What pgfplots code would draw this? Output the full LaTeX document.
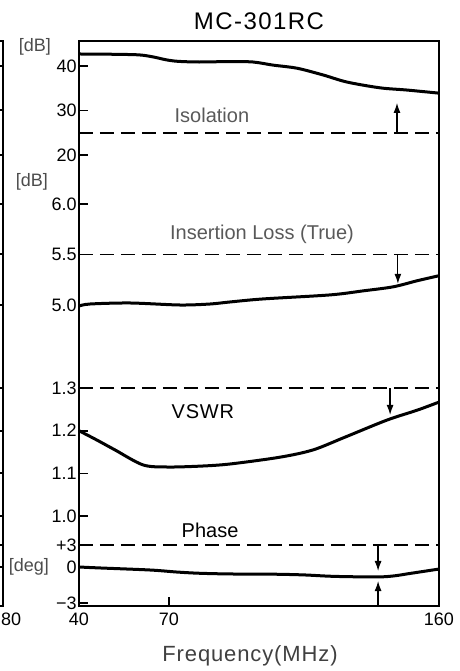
\documentclass[border=0pt]{standalone}
\usepackage{fontspec}
\setmainfont{Liberation Sans}
\usepackage{pgfplots}
\pgfplotsset{compat=1.18}
\usetikzlibrary{arrows.meta}

% axis y is the (negated) height on the sheet, 1 unit = 0.5pt;
% each panel maps its own unit onto it
\pgfplotsset{
  iso/.style={y filter/.expression={-(66+(40-y)*4.45)}},
  il/.style={y filter/.expression={-(204+(6-y)*101)}},
  vswr/.style={y filter/.expression={-(388+(1.3-y)*427)}},
  phase/.style={y filter/.expression={y>=0 ? -(567-7.333*y) : -(567-12*y)}},
  curve/.style={black, no marks, line width=1.5pt, smooth, tension=0.5},
  spec/.style={black, no marks, line width=0.9pt, dash pattern=on 7pt off 3.5pt},
  arr/.style={black, no marks, line width=0.6pt, -{Latex[length=5pt,width=3.5pt]}},
}

\begin{document}
\begin{tikzpicture}

% edge of the neighbouring chart, cut off by the page
\begin{axis}[
  at={(1.5pt,-303pt)}, anchor=south east,
  scale only axis, width=180pt, height=282.5pt,
  xmin=40, xmax=180, ymin=-606, ymax=-41,
  xtick={180}, xticklabels={80},
  xticklabel style={anchor=north west, xshift=-4.5pt},
  ytick={-66,-110,-155,-204,-254,-305,-388,-431,-473,-516,-545,-567},
  yticklabels={},
  xtick pos=bottom, ytick pos=right,
  major tick length=4.5pt,
  axis line style={line width=0.8pt},
  tick style={black, line width=0.8pt},
  tick label style={font=\fontsize{9}{10}\selectfont},
]
\end{axis}

\begin{axis}[
  at={(39.5pt,-303pt)}, anchor=south west,
  scale only axis, width=180pt, height=282.5pt,
  xmin=40, xmax=160, ymin=-606, ymax=-41,
  clip=false,
  xtick={40,70,160}, xticklabels={40,70,160},
  ytick={-66,-110.5,-155,-204,-254.5,-305,-388,-430.7,-473.4,-516.1,-545,-567,-603},
  yticklabels={40,30,20,6.0,5.5,5.0,1.3,1.2,1.1,1.0,+3,0,−3},
  xtick pos=bottom, ytick pos=left,
  major tick length=4.5pt,
  axis line style={line width=0.8pt},
  tick style={black, line width=0.8pt},
  tick label style={font=\fontsize{9}{10}\selectfont},
  yticklabel style={inner xsep=1pt},
]

% Isolation [dB]
\addplot[curve, iso] coordinates {
  (40,42.7) (50,42.65) (60,42.5) (65,42.0) (69,41.4) (73,41.05) (80,40.9)
  (90.3,41.0) (98,40.9) (104.7,40.2) (112.7,39.5) (121.3,38.0)
  (129.3,36.4) (140.3,35.1) (149.3,34.6) (160,33.9)};
\addplot[spec, iso] coordinates {(40,25) (160,25)};
\addplot[arr, iso] coordinates {(146,25) (146,31.7)};

% Insertion Loss (True) [dB]
\addplot[curve, il] coordinates {
  (40,4.99) (43.7,5.01) (57,5.02) (73.7,5.00) (83.7,5.01) (90.3,5.03)
  (101.3,5.06) (123.7,5.10) (134.7,5.14) (144.7,5.18) (152.7,5.24)
  (160,5.29)};
\addplot[spec, il] coordinates {(40,5.5) (160,5.5)};
\addplot[arr, il] coordinates {(146.3,5.5) (146.3,5.21)};

% VSWR
\addplot[curve, vswr] coordinates {
  (40,1.20) (46,1.178) (52,1.155) (61.3,1.120) (69.3,1.115) (80.3,1.117)
  (90.3,1.122) (107,1.138) (118,1.155) (128.7,1.185) (142.7,1.225)
  (152.7,1.248) (160,1.267)};
\addplot[spec, vswr] coordinates {(40,1.3) (160,1.3)};
\addplot[arr, vswr] coordinates {(143.7,1.3) (143.7,1.237)};

% Phase [deg]
\addplot[curve, phase] coordinates {
  (40,0) (47,-0.08) (63.7,-0.25) (72.7,-0.42) (80,-0.52) (90.3,-0.58)
  (105,-0.6) (115,-0.66) (125,-0.78) (139.3,-0.83) (145,-0.74) (150,-0.55)
  (160,-0.17)};
\addplot[spec, phase] coordinates {(40,3) (160,3)};
\addplot[arr, phase] coordinates {(139.7,3) (139.7,-0.33)};
\addplot[arr, phase] coordinates {(139.7,-3.25) (139.7,-1.17)};

% titles and labels
\node[font=\fontsize{12}{14}\selectfont\addfontfeatures{LetterSpace=6}]
  at (rel axis cs:0.5,1) [yshift=9.75pt] {MC-301RC};
\node[anchor=base, font=\fontsize{11}{13}\selectfont\addfontfeatures{LetterSpace=4}, text=black!75]
  at (rel axis cs:0.475,0) [yshift=-27.5pt] {Frequency(MHz)};

\node[anchor=base, font=\fontsize{10}{12}\selectfont, text=black!65] at (axis cs:84.3,-122) {Isolation};
\node[anchor=base, font=\fontsize{10}{12}\selectfont, text=black!65] at (axis cs:101,-239) {Insertion Loss (True)};
\node[anchor=base, font=\fontsize{10}{12}\selectfont\addfontfeatures{LetterSpace=4}] at (axis cs:81.3,-418) {VSWR};
\node[anchor=base, font=\fontsize{10}{12}\selectfont] at (axis cs:83.7,-537) {Phase};

\node[font=\fontsize{9}{10}\selectfont, text=black!70] at (axis cs:25.3,-47) {[dB]};
\node[font=\fontsize{9}{10}\selectfont, text=black!70] at (axis cs:24.3,-182) {[dB]};
\node[font=\fontsize{9}{10}\selectfont, text=black!70] at (axis cs:23.3,-567) {[deg]};
\end{axis}

\pgfresetboundingbox
\path[use as bounding box] (0pt,0pt) rectangle (230pt,-335.5pt);
\end{tikzpicture}
\end{document}
